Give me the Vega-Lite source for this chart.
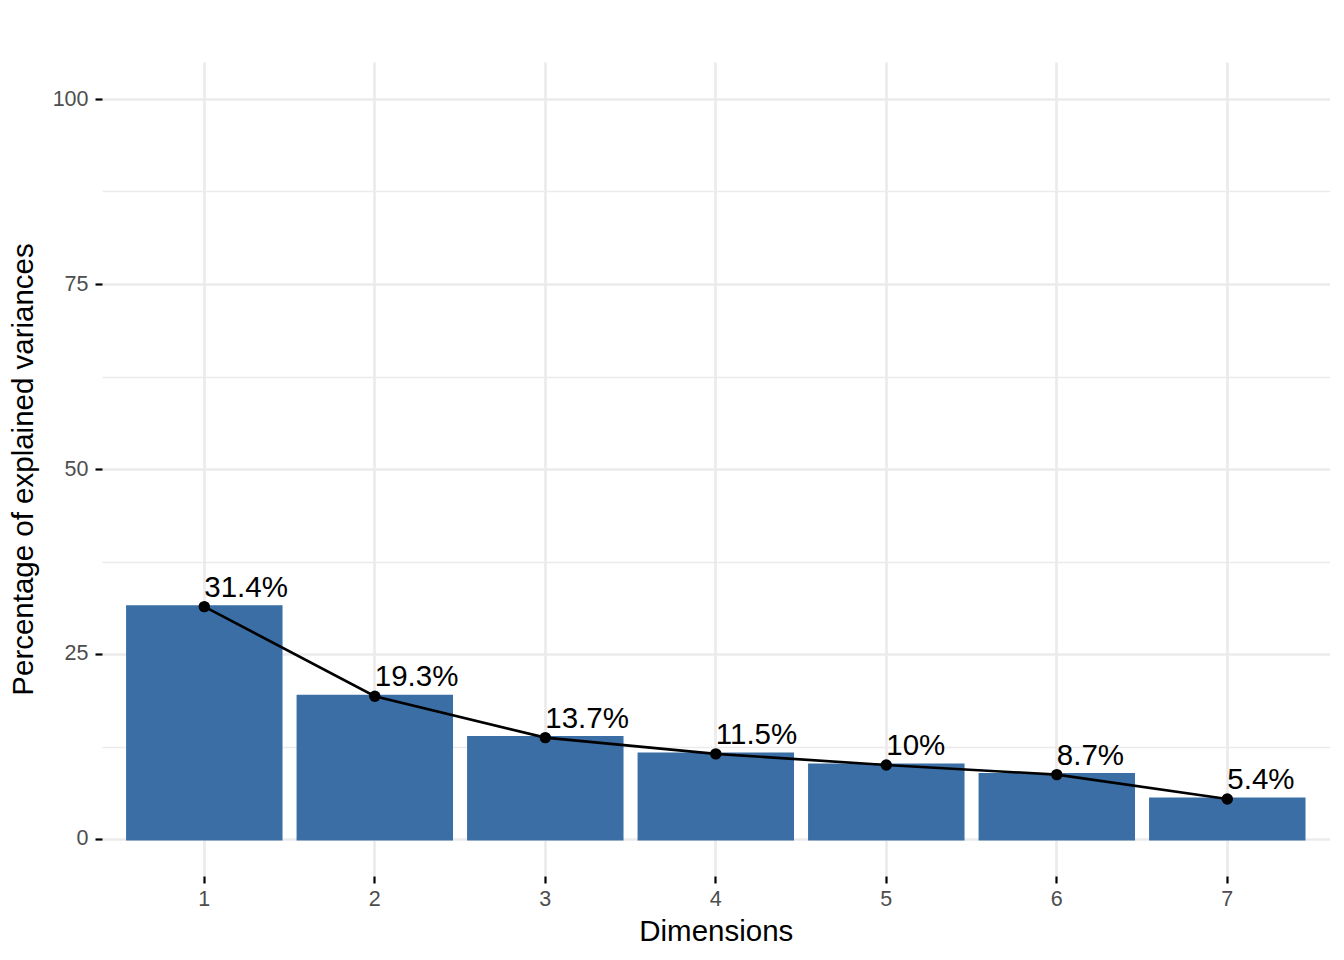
{
  "$schema": "https://vega.github.io/schema/vega-lite/v6.json",
  "autosize": "none",
  "width": 1227.6,
  "height": 814,
  "padding": {"left": 102, "top": 62, "right": 14, "bottom": 84},
  "background": "white",
  "config": {
    "view": {"stroke": null},
    "font": "Liberation Sans",
    "axis": {
      "domain": false,
      "gridColor": "#EBEBEB",
      "tickColor": "#000000",
      "tickWidth": 2.2,
      "tickSize": 7,
      "labelColor": "#4D4D4D",
      "labelFontSize": 21.5,
      "labelFont": "Liberation Sans",
      "titleFont": "Liberation Sans",
      "titleFontSize": 29.5,
      "titleFontWeight": "normal",
      "titleColor": "#000000"
    }
  },
  "data": {
    "values": [
      {"dim": "1", "pct": 31.4, "label": "31.4%"},
      {"dim": "2", "pct": 19.3, "label": "19.3%"},
      {"dim": "3", "pct": 13.7, "label": "13.7%"},
      {"dim": "4", "pct": 11.5, "label": "11.5%"},
      {"dim": "5", "pct": 10.0, "label": "10%"},
      {"dim": "6", "pct": 8.7, "label": "8.7%"},
      {"dim": "7", "pct": 5.4, "label": "5.4%"}
    ]
  },
  "encoding": {
    "x": {
      "field": "dim",
      "type": "ordinal",
      "scale": {"paddingInner": 0.1, "paddingOuter": 0.15},
      "axis": {
        "title": "Dimensions",
        "labelAngle": 0,
        "labelPadding": 6,
        "titlePadding": 7,
        "grid": true,
        "gridWidth": 2.7,
        "bandPosition": 0.5
      }
    },
    "y": {
      "field": "pct",
      "type": "quantitative",
      "scale": {"domain": [-5, 105], "nice": false, "zero": false},
      "axis": {
        "title": "Percentage of explained variances",
        "values": [0, 12.5, 25, 37.5, 50, 62.5, 75, 87.5, 100],
        "labelExpr": "datum.value % 25 === 0 ? datum.label : ''",
        "tickColor": {"condition": {"test": "datum.value % 25 !== 0", "value": "transparent"}, "value": "#000000"},
        "gridWidth": {"condition": {"test": "datum.value % 25 !== 0", "value": 1.35}, "value": 2.7},
        "labelPadding": 7,
        "titlePadding": 14
      }
    }
  },
  "layer": [
    {
      "mark": {"type": "bar", "color": "#3A6EA5", "stroke": "#3A6EA5", "strokeWidth": 3},
      "encoding": {"y": {"field": "pct", "type": "quantitative"}, "y2": {"datum": 0}}
    },
    {
      "mark": {"type": "line", "color": "#000000", "strokeWidth": 2.6},
      "encoding": {}
    },
    {
      "mark": {"type": "point", "filled": true, "color": "#000000", "opacity": 1, "size": 130},
      "encoding": {}
    },
    {
      "mark": {"type": "text", "align": "left", "baseline": "alphabetic", "dy": -10, "dx": 0, "fontSize": 29.5, "color": "#000000", "font": "Liberation Sans"},
      "encoding": {"text": {"field": "label"}}
    }
  ]
}
